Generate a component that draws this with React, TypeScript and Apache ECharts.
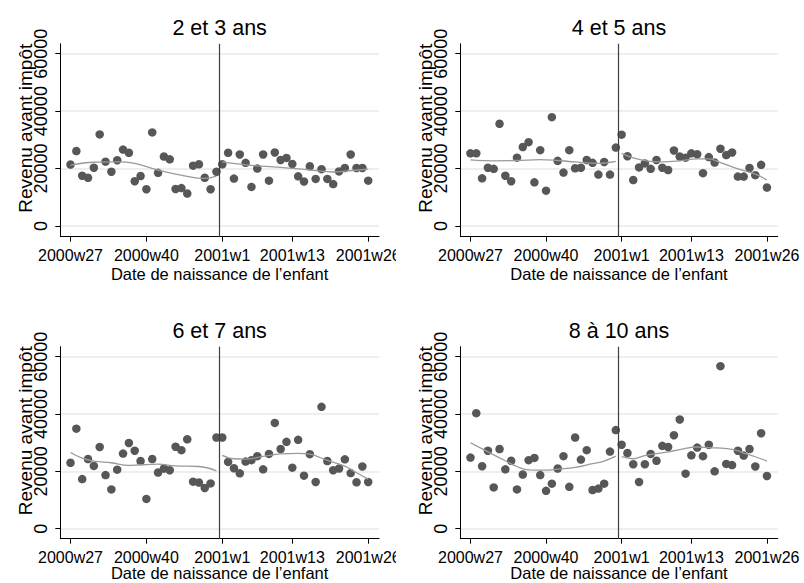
import React, { useEffect, useRef } from "react";
import * as echarts from "echarts";

// Weeks are indexed 0 (2000w27) .. 51 (2001w26)
const tickWeeks = [0, 13, 26, 38, 51];
const tickLabels = ["2000w27", "2000w40", "2001w1", "2001w13", "2001w26"];
const yTicks = [0, 20000, 40000, 60000];
const cutoffWeek = 25.5;

const titles = ["2 et 3 ans", "4 et 5 ans", "6 et 7 ans", "8 à 10 ans"];

const revenu2et3 = [
  21400, 26100, 17500, 16800, 20300, 31900, 22400, 18900, 22900, 26600, 25500, 15600, 17400,
  12800, 32600, 18500, 24200, 23200, 12900, 13200, 11300, 21000, 21500, 16800, 12800, 18900,
  21500, 25500, 16500, 24900, 22000, 13600, 20000, 24900, 15800, 25600, 23000, 23700, 21600,
  17300, 15500, 20800, 16400, 19800, 16400, 14600, 19000, 20200, 24900, 20200, 20200, 15800,
];
const revenu4et5 = [
  25300, 25300, 16600, 20300, 19900, 35600, 17500, 15600, 23800, 27500, 29200, 15200, 26400,
  12300, 37900, 22700, 18600, 26400, 20100, 20300, 23000, 22000, 17900, 22300, 17900, 27300,
  31800, 24300, 16000, 20400, 21800, 19900, 23000, 20300, 19500, 26300, 24200, 23800, 25300,
  25000, 18400, 24000, 22100, 26900, 24700, 25600, 17200, 17200, 20200, 17700, 21300, 13400,
];
const revenu6et7 = [
  23000, 34900, 17300, 24300, 21900, 28500, 18700, 13700, 20600, 26200, 29900, 27200, 23600,
  10400, 24300, 19600, 21000, 20400, 28600, 27400, 31200, 16400, 16100, 14200, 15800, 31800,
  31800, 23300, 21100, 19300, 23400, 23900, 25300, 20700, 26100, 36900, 27800, 30300, 21300,
  31000, 18500, 26000, 16300, 42500, 23600, 20400, 21000, 24200, 19400, 16200, 21700, 16300,
];
const revenu8a10 = [
  24800, 40300, 21800, 27200, 14400, 27800, 20700, 23700, 13700, 18900, 23900, 24700, 18700,
  13200, 15700, 21000, 25300, 14600, 31800, 24100, 27400, 13500, 14000, 15700, 26900, 34400,
  29300, 26400, 22500, 16300, 22500, 26100, 23700, 28900, 28500, 32600, 38100, 19200, 25600,
  28300, 25300, 29300, 20000, 56700, 22600, 22200, 27200, 25500, 27800, 21700, 33300, 18400,
];

// Lowess curves: [week index, value]
const lowess2et3Avant = [[0, 21200], [4, 22200], [8, 22300], [11, 21800], [15, 19500], [18, 18100], [23, 16600], [25, 17400]];
const lowess2et3Apres = [[26, 22300], [30, 21300], [36, 20400], [41, 19500], [45, 18800], [47, 19100], [51, 19800]];
const lowess4et5Avant = [[0, 23000], [4, 22700], [8, 22800], [12, 23100], [15, 22800], [18, 22300], [22, 21800], [25, 22500]];
const lowess4et5Apres = [[26, 25300], [28, 23700], [30, 22800], [33, 22300], [36, 22700], [39, 23400], [41, 23400], [43, 22100], [46, 19900], [49, 18100], [51, 16000]];
const lowess6et7Avant = [[0, 26600], [2, 24600], [4, 23600], [7, 23000], [10, 22100], [12, 22300], [15, 22500], [18, 21900], [22, 21700], [25, 20200]];
const lowess6et7Apres = [[26, 25600], [28, 24400], [30, 24300], [33, 25200], [36, 26100], [39, 26300], [41, 26000], [44, 23800], [47, 21800], [49, 19500], [51, 17300]];
const lowess8a10Avant = [[0, 30000], [3, 26800], [6, 23700], [8, 21700], [10, 20500], [13, 20400], [15, 20800], [18, 21400], [21, 22700], [23, 23600], [25, 25300]];
const lowess8a10Apres = [[26, 25100], [28, 24400], [30, 25500], [34, 26800], [36, 27600], [39, 28500], [41, 28300], [45, 27700], [47, 26400], [49, 25100], [51, 23600]];

const FONT = "'Liberation Sans', Arial, Helvetica, sans-serif";

type PanelProps = {
  title: string;
  values: number[];
  lowBefore: number[][];
  lowAfter: number[][];
  left: number;
  top: number;
  width: number;
  height: number;
  gridWidth: number;
  gridHeight: number;
  yMin: number;
  yMax: number;
  xNameGap: number;
};

function Panel(p: PanelProps) {
  const ref = useRef<HTMLDivElement>(null);
  useEffect(() => {
    const chart = echarts.init(ref.current as HTMLDivElement, null, { renderer: "svg" });
    const gridLeft = 60.3;
    chart.setOption({
      animation: false,
      title: {
        text: p.title,
        left: gridLeft + p.gridWidth / 2,
        top: 17,
        textAlign: "center",
        padding: 0,
        textStyle: { fontFamily: FONT, fontSize: 21.5, fontWeight: "normal", color: "#000" },
      },
      grid: {
        left: gridLeft,
        top: 43.7,
        width: p.gridWidth,
        height: p.gridHeight,
        containLabel: false,
        outerBoundsMode: "none",
      },
      xAxis: {
        type: "value",
        min: -1.75,
        max: 52.85,
        name: "Date de naissance de l\u2019enfant",
        nameLocation: "middle",
        nameGap: p.xNameGap,
        nameMoveOverlap: false,
        nameTextStyle: { fontFamily: FONT, fontSize: 16.5, color: "#000" },
        axisLine: { show: true, onZero: false, lineStyle: { color: "#000", width: 1 } },
        axisTick: { show: true, length: 5, customValues: tickWeeks, lineStyle: { color: "#000", width: 1 } },
        axisLabel: {
          customValues: tickWeeks,
          formatter: (v: number) => tickLabels[tickWeeks.indexOf(Math.round(v))] ?? "",
          fontFamily: FONT,
          fontSize: 16,
          margin: 10.5,
          color: "#000",
          hideOverlap: false,
        },
        splitLine: { show: false },
      },
      yAxis: {
        type: "value",
        min: p.yMin,
        max: p.yMax,
        name: "Revenu avant imp\u00f4t",
        nameLocation: "middle",
        nameGap: 25,
        nameRotate: 90,
        nameMoveOverlap: false,
        nameTextStyle: { fontFamily: FONT, fontSize: 19, color: "#000", padding: [0, 0, 0, 24] },
        axisLine: { show: true, onZero: false, lineStyle: { color: "#000", width: 1 } },
        axisTick: { show: true, length: 5, customValues: yTicks, lineStyle: { color: "#000", width: 1 } },
        axisLabel: {
          customValues: yTicks,
          formatter: (v: number) => String(Math.round(v)),
          rotate: 90,
          fontFamily: FONT,
          fontSize: 18,
          margin: 10,
          color: "#000",
          hideOverlap: false,
        },
        splitLine: { show: true, lineStyle: { color: "#e8e8e8", width: 1.5 } },
      },
      series: [
        {
          type: "scatter",
          data: p.values.map((v, i) => [i, v]),
          symbolSize: 8.5,
          itemStyle: { color: "#575757", opacity: 1 },
          markLine: {
            silent: true,
            symbol: ["none", "none"],
            label: { show: false },
            lineStyle: { color: "#404040", width: 1.2, type: "solid" },
            data: [{ xAxis: cutoffWeek }],
          },
        },
        {
          type: "line",
          data: p.lowBefore,
          smooth: 0.4,
          symbol: "none",
          lineStyle: { color: "#9a9a9a", width: 1.3 },
        },
        {
          type: "line",
          data: p.lowAfter,
          smooth: 0.4,
          symbol: "none",
          lineStyle: { color: "#9a9a9a", width: 1.3 },
        },
      ],
    });
    return () => chart.dispose();
  }, []);
  return (
    <div
      ref={ref}
      style={{ position: "absolute", left: p.left, top: p.top, width: p.width, height: p.height, overflow: "hidden" }}
    />
  );
}

export default function App() {
  return (
    <div style={{ position: "fixed", left: 0, top: 0, width: 804, height: 583, background: "#fff", overflow: "hidden" }}>
      <Panel title={titles[0]} values={revenu2et3} lowBefore={lowess2et3Avant} lowAfter={lowess2et3Apres}
        left={0} top={0} width={396} height={290} gridWidth={318.7} gridHeight={193} yMin={-3726} yMax={63480} xNameGap={28.5} />
      <Panel title={titles[1]} values={revenu4et5} lowBefore={lowess4et5Avant} lowAfter={lowess4et5Apres}
        left={400} top={0} width={404} height={290} gridWidth={317.4} gridHeight={193} yMin={-3726} yMax={63480} xNameGap={28.5} />
      <Panel title={titles[2]} values={revenu6et7} lowBefore={lowess6et7Avant} lowAfter={lowess6et7Apres}
        left={0} top={303} width={396} height={280} gridWidth={318.7} gridHeight={192} yMin={-3488} yMax={63488} xNameGap={26} />
      <Panel title={titles[3]} values={revenu8a10} lowBefore={lowess8a10Avant} lowAfter={lowess8a10Apres}
        left={400} top={303} width={404} height={280} gridWidth={317.4} gridHeight={192} yMin={-3488} yMax={63488} xNameGap={26} />
    </div>
  );
}
